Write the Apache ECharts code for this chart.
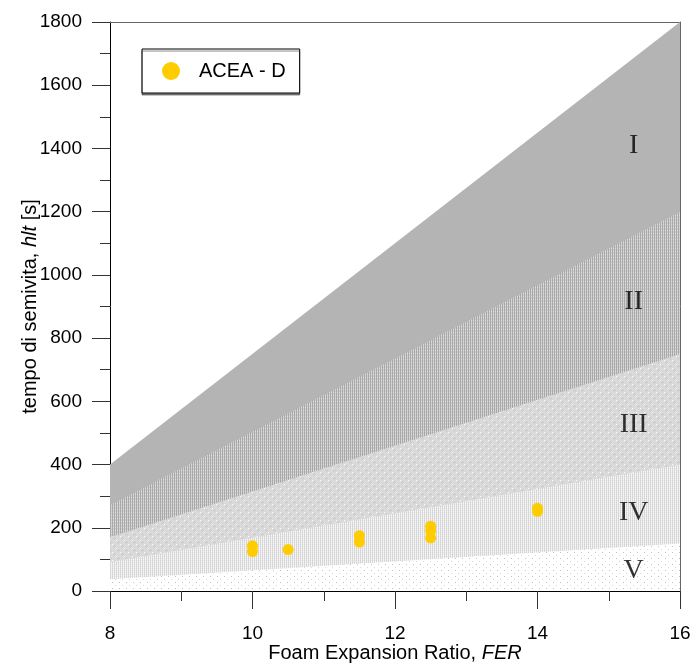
<!DOCTYPE html>
<html>
<head>
<meta charset="utf-8">
<script src="https://cdn.jsdelivr.net/npm/echarts@6/dist/echarts.min.js"></script>
<style>
html,body{margin:0;padding:0;background:#fff;}
#chart{width:696px;height:663px;}
</style>
</head>
<body>
<div id="chart"></div>
<script>
// ---- data ----
const xBounds = [8, 16];
const lineTop = [400, 1800];    // upper limit of zone I
const lineI_II = [272, 1200];
const lineII_III = [170, 750];
const lineIII_IV = [92, 400];
const lineIV_V = [37, 150];

const pointsX = [10, 10, 10.5, 11.5, 11.5, 12.5, 12.5, 12.5, 14, 14];
const pointsY = [143, 125, 131, 175, 155, 205, 190, 168, 262, 252];

const zoneNames = ['I', 'II', 'III', 'IV', 'V'];
const zoneLabelX = [15.35, 15.35, 15.35, 15.35, 15.35];
const zoneLabelY = [1410, 915, 527, 247, 64];

const xTicks = [8, 10, 12, 14, 16];
const yTicks = [0, 200, 400, 600, 800, 1000, 1200, 1400, 1600, 1800];

// ---- patterns ----
function makePattern(w, h, bg, pix) {
  const c = document.createElement('canvas');
  c.width = w; c.height = h;
  const ctx = c.getContext('2d');
  ctx.fillStyle = bg; ctx.fillRect(0, 0, w, h);
  pix.forEach(p => { ctx.fillStyle = p[2]; ctx.fillRect(p[0], p[1], 1, 1); });
  return { image: c, repeat: 'repeat' };
}
const patII = makePattern(2, 3, '#a9a9a9', [[1,0,'#cecece'],[1,1,'#cecece'],[1,2,'#dedede']]);
const patIII = makePattern(8, 8, '#dadada', [
  [0,0,'#ffffff'],[4,4,'#ffffff'],
  [2,1,'#cbcbcb'],[1,2,'#cbcbcb'],[3,2,'#cbcbcb'],[2,3,'#cbcbcb'],
  [6,5,'#cbcbcb'],[5,6,'#cbcbcb'],[7,6,'#cbcbcb'],[6,7,'#cbcbcb']
]);
const patIV = makePattern(2, 2, '#efefef', [[0,0,'#d4d4d4'],[0,1,'#dadada'],[1,1,'#f6f6f6']]);
const patV = makePattern(7, 6, '#ffffff', [[0,0,'#c2c2c2'],[3,3,'#d8d8d8']]);

function boundary(arr) { return [[xBounds[0], arr[0]], [xBounds[1], arr[1]]]; }
function band(arr, fill) {
  return {
    type: 'line', data: boundary(arr), showSymbol: false, symbol: 'none',
    lineStyle: { width: 0 }, areaStyle: { color: fill, opacity: 1 },
    silent: true, z: 1, animation: false
  };
}

const font = 'Liberation Sans, Arial, sans-serif';
const chart = echarts.init(document.getElementById('chart'), null, { renderer: 'canvas' });
chart.setOption({
  animation: false,
  backgroundColor: '#fff',
  grid: { left: 110, right: 16, top: 22, bottom: 72, containLabel: false, outerBoundsMode: 'none' },
  legend: {
    data: ['ACEA - D'],
    left: 142, top: 49,
    padding: [12, 14, 12, 20],
    icon: 'circle',
    itemWidth: 18, itemHeight: 18,
    borderColor: '#000', borderWidth: 1,
    shadowColor: 'rgba(0,0,0,0.45)', shadowOffsetY: 2, shadowBlur: 0,
    backgroundColor: '#fff',
    textStyle: { fontFamily: font, fontSize: 20, color: '#000', padding: [0, 0, 0, 14] }
  },
  xAxis: [{
    type: 'value', min: 8, max: 16, interval: 2,
    name: 'Foam Expansion Ratio, {i|FER}', nameLocation: 'middle', nameGap: 52,
    nameMoveOverlap: false,
    nameTextStyle: { fontFamily: font, fontSize: 20, color: '#000',
      rich: { i: { fontStyle: 'italic', fontFamily: font, fontSize: 20, color: '#000' } } },
    axisLine: { show: true, onZero: false, lineStyle: { color: '#000', width: 1 } },
    axisTick: { show: true, length: 18, lineStyle: { color: '#333' } },
    minorTick: { show: true, splitNumber: 2, length: 10, lineStyle: { color: '#333' } },
    axisLabel: { margin: 33, fontFamily: font, fontSize: 19, color: '#000' },
    splitLine: { show: false }
  }, {
    type: 'value', min: 8, max: 16, position: 'top',
    axisLine: { show: true, onZero: false, lineStyle: { color: '#666' } },
    axisTick: { show: false }, axisLabel: { show: false }, splitLine: { show: false }
  }],
  yAxis: [{
    type: 'value', min: 0, max: 1800, interval: 200,
    name: 'tempo di semivita, {i|hlt} [s]', nameLocation: 'middle', nameGap: 70,
    nameMoveOverlap: false,
    nameTextStyle: { fontFamily: font, fontSize: 20, color: '#000',
      rich: { i: { fontStyle: 'italic', fontFamily: font, fontSize: 20, color: '#000' } } },
    axisLine: { show: true, onZero: false, lineStyle: { color: '#000', width: 1 } },
    axisTick: { show: true, length: 18, lineStyle: { color: '#333' } },
    minorTick: { show: true, splitNumber: 2, length: 10, lineStyle: { color: '#333' } },
    axisLabel: { margin: 28, fontFamily: font, fontSize: 19, color: '#000', formatter: v => String(v) },
    splitLine: { show: false }
  }, {
    type: 'value', min: 0, max: 1800, position: 'right',
    axisLine: { show: true, onZero: false, lineStyle: { color: '#666' } },
    axisTick: { show: false }, axisLabel: { show: false }, splitLine: { show: false }
  }],
  series: [
    band(lineTop, '#b4b4b4'),
    band(lineI_II, patII),
    band(lineII_III, patIII),
    band(lineIII_IV, patIV),
    band(lineIV_V, patV),
    {
      type: 'scatter', name: 'zones', silent: true, z: 3,
      symbolSize: 0,
      data: zoneNames.map((n, i) => ({ value: [zoneLabelX[i], zoneLabelY[i]], name: n })),
      label: { show: true, position: 'inside', formatter: p => p.name,
        fontFamily: 'Liberation Serif, Times New Roman, serif', fontSize: 28, color: '#000' }
    },
    {
      type: 'scatter', name: 'ACEA - D', z: 4,
      symbol: 'circle', symbolSize: 11,
      itemStyle: { color: '#ffcc00', opacity: 1 },
      data: pointsX.map((x, i) => [x, pointsY[i]])
    }
  ]
});
</script>
</body>
</html>
